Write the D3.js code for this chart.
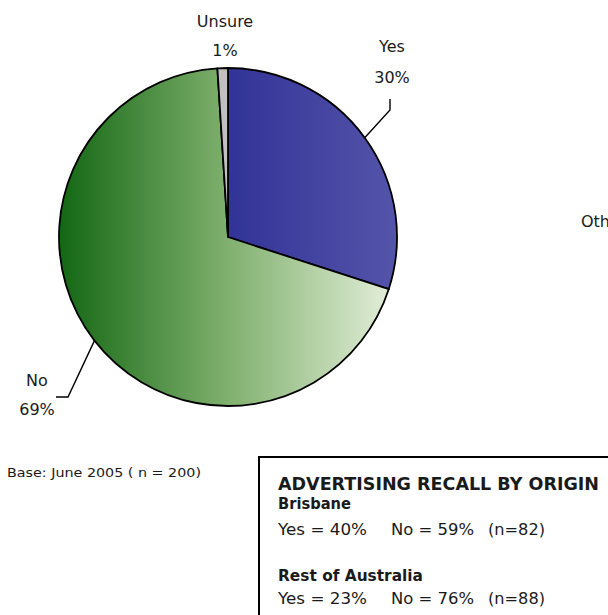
<!DOCTYPE html>
<html>
<head>
<meta charset="utf-8">
<script src="https://cdn.jsdelivr.net/npm/d3@7"></script>
<style>
  html, body { margin: 0; padding: 0; background: #fff; }
  svg { display: block; }
  text { font-family: "DejaVu Sans", sans-serif; fill: #1a1a1a; }
</style>
</head>
<body>
<svg id="chart" width="608" height="615"></svg>
<script>
// Advertising recall, June 2005
const categories = ["Yes", "No", "Unsure"];
const values = [30, 69, 1];
const baseNote = "Base: June 2005 ( n = 200)";

// Recall by origin
const originTitle = "ADVERTISING RECALL BY ORIGIN";
const origins = ["Brisbane", "Rest of Australia"];
const originYes = [40, 23];
const originNo = [59, 76];
const originN = [82, 88];

const svg = d3.select("#chart");
const cx = 228, cy = 237, R = 169;

// Horizontal gradients, in the pie group's own coordinates
const defs = svg.append("defs");
function hGrad(id, x1, x2, stops) {
  const g = defs.append("linearGradient")
    .attr("id", id)
    .attr("gradientUnits", "userSpaceOnUse")
    .attr("x1", x1).attr("x2", x2).attr("y1", 0).attr("y2", 0);
  stops.forEach(([o, c]) => g.append("stop").attr("offset", o).attr("stop-color", c));
}
hGrad("gYes", 0, R, [[0, "#323397"], [1, "#5454aa"]]);
hGrad("gNo", -R, R, [[0, "#136713"], [0.5, "#80b06e"], [1, "#e6f0dc"]]);

const fills = { Yes: "url(#gYes)", No: "url(#gNo)", Unsure: "#c0c0c0" };

const data = categories.map((c, i) => ({ cat: c, value: values[i] }));
const pie = d3.pie().sort(null).value(d => d.value);
const arcs = pie(data);
const arc = d3.arc().innerRadius(0).outerRadius(R);

const g = svg.append("g").attr("transform", `translate(${cx},${cy})`);
g.selectAll("path.slice")
  .data(arcs)
  .join("path")
  .attr("class", "slice")
  .attr("d", arc)
  .attr("fill", d => fills[d.data.cat])
  .attr("stroke", "#000")
  .attr("stroke-width", 1.8)
  .attr("stroke-linejoin", "round");

// Point on the rim at a slice's middle angle (absolute coordinates)
function rimPoint(d) {
  const a = (d.startAngle + d.endAngle) / 2;
  return [cx + R * Math.sin(a), cy - R * Math.cos(a)];
}

const fmt = v => v + "%";
const labelFont = 16;

// Label placement and leader shape per category
const labelLayout = {
  Yes:    { x: 392, y1: 52, y2: 83, leader: p => [p, [390, 110], [390, 99]] },
  No:     { x: 37,  y1: 386, y2: 415, leader: p => [p, [68, 397], [56, 397]] },
  Unsure: { x: 225, y1: 27, y2: 56, leader: null }
};

const line = d3.line();
arcs.forEach(d => {
  const L = labelLayout[d.data.cat];
  if (L.leader) {
    svg.append("path")
      .attr("d", line(L.leader(rimPoint(d))))
      .attr("fill", "none")
      .attr("stroke", "#000")
      .attr("stroke-width", 1.4);
  }
  svg.append("text")
    .attr("x", L.x).attr("y", L.y1)
    .attr("text-anchor", "middle")
    .attr("font-size", labelFont)
    .text(d.data.cat);
  svg.append("text")
    .attr("x", L.x).attr("y", L.y2)
    .attr("text-anchor", "middle")
    .attr("font-size", labelFont)
    .text(fmt(d.data.value));
});

// Neighbouring label running off the right edge
svg.append("text")
  .attr("x", 581).attr("y", 227)
  .attr("font-size", labelFont)
  .text("Other");

// Base note
svg.append("text")
  .attr("x", 7).attr("y", 477)
  .attr("font-size", 13)
  .attr("textLength", 194)
  .attr("lengthAdjust", "spacingAndGlyphs")
  .text(baseNote);

// Recall-by-origin box
const bx = 259, by = 457;
svg.append("rect")
  .attr("x", bx).attr("y", by)
  .attr("width", 400).attr("height", 200)
  .attr("fill", "#fff")
  .attr("stroke", "#000")
  .attr("stroke-width", 2);

const tx = 278;
svg.append("text")
  .attr("x", tx).attr("y", 490)
  .attr("font-size", 17.5)
  .attr("font-weight", "bold")
  .attr("textLength", 321)
  .attr("lengthAdjust", "spacingAndGlyphs")
  .text(originTitle);

const rowY = [[509, 535], [581, 604]];
const headW = [73, 145];
origins.forEach((o, i) => {
  svg.append("text")
    .attr("x", tx).attr("y", rowY[i][0])
    .attr("font-size", 16)
    .attr("font-weight", "bold")
    .attr("textLength", headW[i])
    .attr("lengthAdjust", "spacingAndGlyphs")
    .text(o);
  const t = svg.append("text")
    .attr("y", rowY[i][1])
    .attr("font-size", 16.5);
  t.append("tspan").attr("x", tx)
    .attr("textLength", 89).attr("lengthAdjust", "spacingAndGlyphs")
    .text(`Yes = ${originYes[i]}%`);
  t.append("tspan").attr("x", 391)
    .attr("textLength", 83).attr("lengthAdjust", "spacingAndGlyphs")
    .text(`No = ${originNo[i]}%`);
  t.append("tspan").attr("x", 488)
    .attr("textLength", 57).attr("lengthAdjust", "spacingAndGlyphs")
    .text(`(n=${originN[i]})`);
});
</script>
</body>
</html>
